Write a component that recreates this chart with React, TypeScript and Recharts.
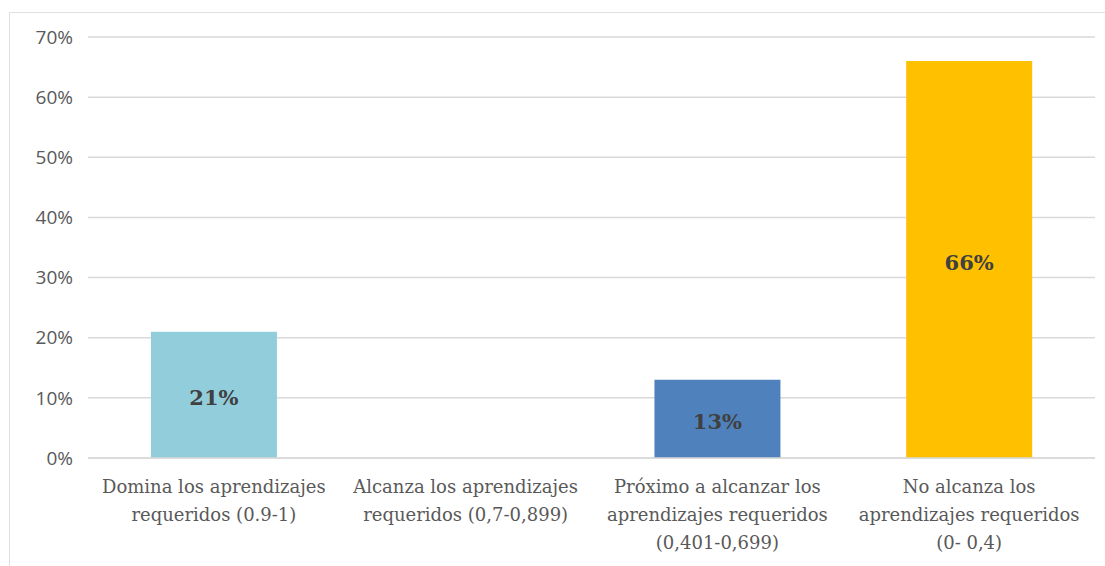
import { BarChart, Bar, XAxis, YAxis, CartesianGrid, Cell, LabelList } from "recharts";

// niveles de logro
const categories = [
  "Domina los aprendizajes requeridos (0.9-1)",
  "Alcanza los aprendizajes requeridos (0,7-0,899)",
  "Próximo a alcanzar los aprendizajes requeridos (0,401-0,699)",
  "No alcanza los aprendizajes requeridos (0- 0,4)",
];
const categoryLines = [
  ["Domina los aprendizajes", "requeridos (0.9-1)"],
  ["Alcanza los aprendizajes", "requeridos (0,7-0,899)"],
  ["Próximo a alcanzar los", "aprendizajes requeridos", "(0,401-0,699)"],
  ["No alcanza los", "aprendizajes requeridos", "(0- 0,4)"],
];
const percentages = [21, 0, 13, 66];
const barColors = ["#92CDDC", "#4F81BD", "#4F81BD", "#FFC000"];
const yTicks = [0, 10, 20, 30, 40, 50, 60, 70];

const data = categories.map((name, i) => ({ name, idx: i, value: percentages[i] }));

function CategoryTick({ x, y, payload }: any) {
  const lines = categoryLines[payload.index] ?? [payload.value];
  return (
    <text
      x={x}
      y={y + 27}
      textAnchor="middle"
      fill="#595959"
      fontFamily="'DejaVu Serif', serif"
      fontSize={18}
    >
      {lines.map((line: string, i: number) => (
        <tspan key={i} x={x} dy={i === 0 ? 0 : 28}>
          {line}
        </tspan>
      ))}
    </text>
  );
}

export default function App() {
  return (
    <div style={{ position: "absolute", left: 0, top: 0, width: 1105, height: 566, background: "#fff" }}>
      <div
        style={{
          position: "absolute",
          left: 9,
          top: 12,
          width: 1096,
          height: 554,
          borderLeft: "1px solid #e0e0e0",
          borderTop: "1px solid #e0e0e0",
        }}
      />
      <BarChart
        width={1105}
        height={566}
        data={data}
        margin={{ top: 37, right: 10, bottom: 0, left: 0 }}
        barCategoryGap="25%"
      >
        <CartesianGrid vertical={false} stroke="#d9d9d9" strokeWidth={1.5} />
        <XAxis
          dataKey="name"
          height={108}
          interval={0}
          tickLine={false}
          axisLine={{ stroke: "#d9d9d9", strokeWidth: 1.5 }}
          tick={<CategoryTick />}
        />
        <YAxis
          width={88}
          domain={[0, 70]}
          ticks={yTicks}
          tickFormatter={(v: number) => `${v}%`}
          tickLine={false}
          axisLine={false}
          tickMargin={9}
          tick={{ fill: "#595959", fontSize: 19, fontFamily: "'Open Sans', sans-serif" }}
        />
        <Bar dataKey="value" isAnimationActive={false}>
          {data.map((d) => (
            <Cell key={d.idx} fill={barColors[d.idx]} />
          ))}
          <LabelList
            dataKey="value"
            position="center"
            formatter={(v: any) => (v ? `${v}%` : "")}
            fill="#404040"
            fontSize={21}
            fontWeight="bold"
            fontFamily="'DejaVu Serif', serif"
            dy={3}
          />
        </Bar>
      </BarChart>
    </div>
  );
}
